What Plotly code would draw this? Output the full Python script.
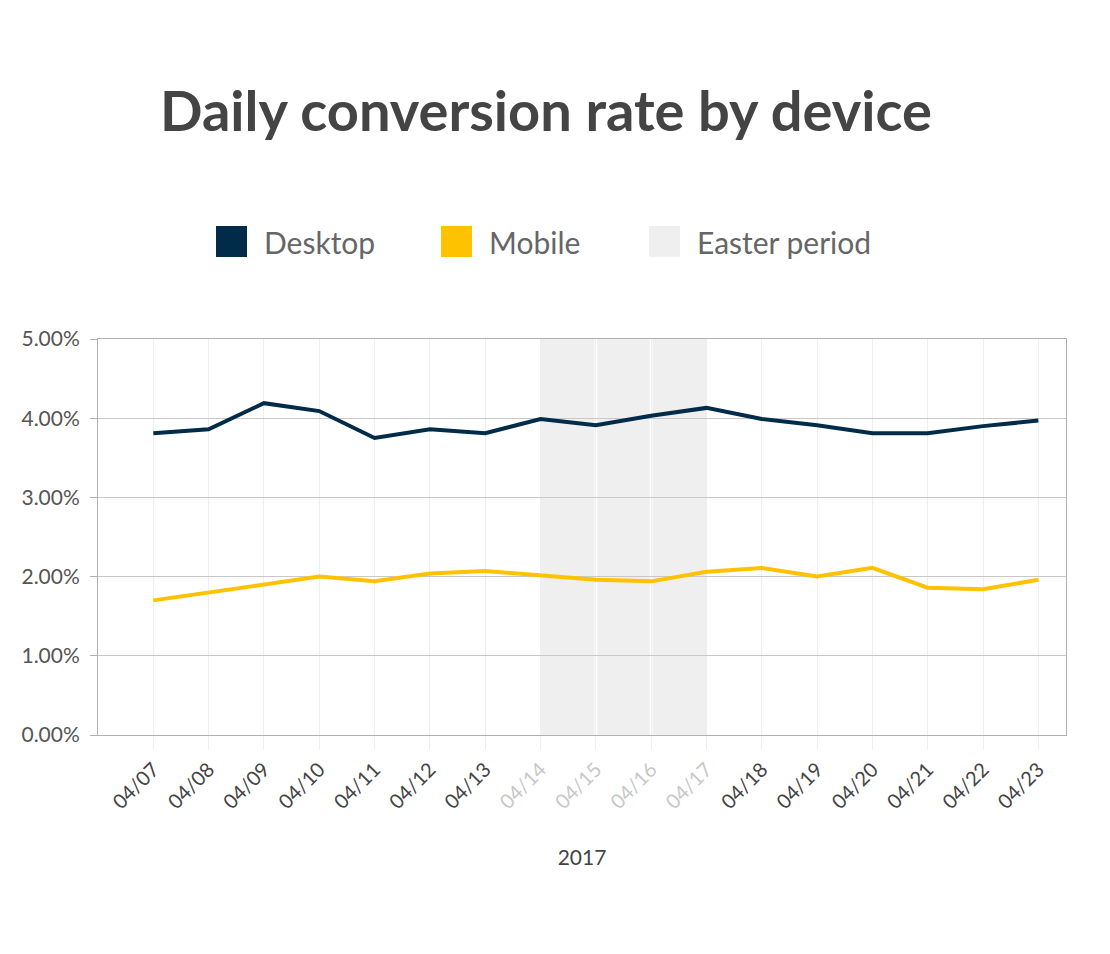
import plotly.graph_objects as go

days = ["04/07", "04/08", "04/09", "04/10", "04/11", "04/12", "04/13", "04/14",
        "04/15", "04/16", "04/17", "04/18", "04/19", "04/20", "04/21", "04/22", "04/23"]
desktop = [3.81, 3.86, 4.19, 4.09, 3.75, 3.86, 3.81, 3.99, 3.91, 4.03, 4.13,
           3.99, 3.91, 3.81, 3.81, 3.90, 3.97]
mobile = [1.70, 1.80, 1.90, 2.00, 1.94, 2.04, 2.07, 2.02, 1.96, 1.94, 2.06,
          2.11, 2.00, 2.11, 1.86, 1.84, 1.96]
easter_days = ["04/14", "04/15", "04/16", "04/17"]
y_ticks = [0, 1, 2, 3, 4, 5]

series_names = ["Desktop", "Mobile", "Easter period"]
series_colors = ["#002b49", "#ffc200", "#efefef"]

FONT = "Lato"
W, H = 1110, 954
L, R, T, B = 98, 44, 339, 219
pw, ph = W - L - R, H - T - B

fig = go.Figure()
fig.add_trace(go.Scatter(x=days, y=desktop, mode="lines", name=series_names[0],
                         line=dict(color=series_colors[0], width=4), showlegend=False))
fig.add_trace(go.Scatter(x=days, y=mobile, mode="lines", name=series_names[1],
                         line=dict(color=series_colors[1], width=4), showlegend=False))

# Easter shading: one band per day interval, with small gaps
idx = [days.index(d) for d in easter_days]
for a, b in zip(idx[:-1], idx[1:]):
    gap0 = 0.0 if a == idx[0] else 0.025
    gap1 = 0.0 if b == idx[-1] else 0.025
    fig.add_shape(type="rect", xref="x", yref="y", x0=a + gap0, x1=b - gap1,
                  y0=y_ticks[0], y1=y_ticks[-1], fillcolor=series_colors[2],
                  line=dict(width=0), layer="below")

# Manual legend
def px_to_paper(x, y):
    return (x - L) / pw, (H - B - y) / ph

leg_x = [216, 441, 649]
for name, col, lx in zip(series_names, series_colors, leg_x):
    x0, y0 = px_to_paper(lx, 226)
    x1, y1 = px_to_paper(lx + 31, 257)
    fig.add_shape(type="rect", xref="paper", yref="paper", x0=x0, x1=x1, y0=y1, y1=y0,
                  fillcolor=col, line=dict(width=0))
    tx, ty = px_to_paper(lx + 46, 242)
    fig.add_annotation(xref="paper", yref="paper", x=tx, y=ty, text=name, showarrow=False,
                       xanchor="left", yanchor="middle",
                       font=dict(family=FONT, size=30, color="#666666"))

ticktext = [f"<span style='color:#c8c8c8'>{d}</span>" if d in easter_days else d for d in days]

fig.update_layout(
    width=W, height=H,
    margin=dict(l=L, r=R, t=T, b=B),
    paper_bgcolor="white", plot_bgcolor="white",
    font=dict(family=FONT, color="#444444"),
    title=dict(text="<b>Daily conversion rate by device</b>", xref="container", yref="container",
               x=546 / W, y=1 - 111 / H, xanchor="center", yanchor="middle",
               font=dict(family=FONT, size=56, color="#444444")),
    xaxis=dict(type="category", categoryorder="array", categoryarray=days,
               range=[-1, len(days) - 0.5],
               tickmode="array", tickvals=days, ticktext=ticktext, tickangle=-45,
               tickfont=dict(family=FONT, size=20, color="#444444"),
               showgrid=True, gridcolor="#efefef", gridwidth=1,
               ticks="outside", ticklen=14, tickcolor="#efefef",
               showline=True, linecolor="#b0b0b0", linewidth=1, mirror=True,
               zeroline=False,
               title=dict(text="2017", font=dict(family=FONT, size=21, color="#444444"), standoff=38)),
    yaxis=dict(range=[y_ticks[0], y_ticks[-1]], tickmode="array", tickvals=y_ticks,
               ticktext=[f"{v:.2f}%" for v in y_ticks],
               tickfont=dict(family=FONT, size=21, color="#555555"),
               showgrid=True, gridcolor="#c8c8c8", gridwidth=1,
               ticks="outside", ticklen=7, tickcolor="#b0b0b0", ticklabelstandoff=6,
               showline=True, linecolor="#b0b0b0", linewidth=1, mirror=True,
               zeroline=False),
)

fig.write_html("out.html")
